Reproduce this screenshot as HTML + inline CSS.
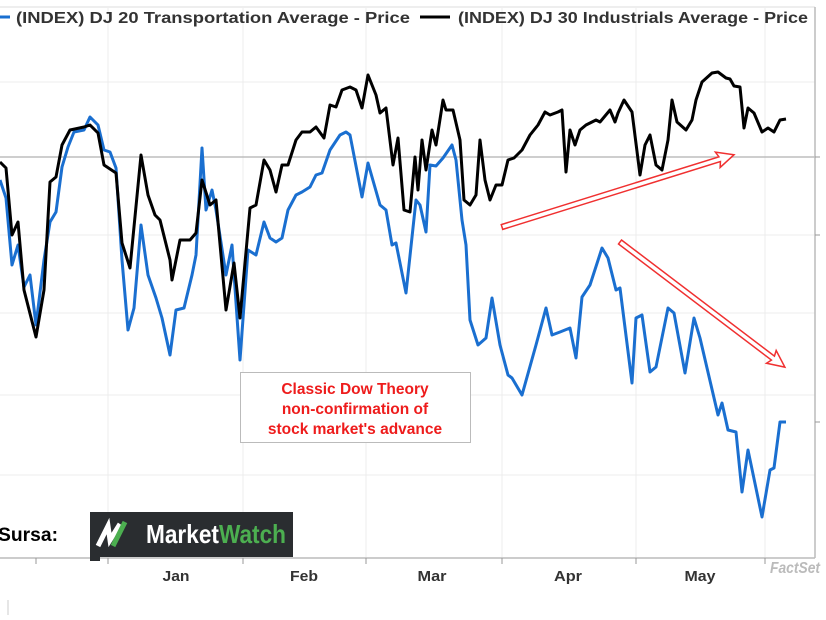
<!DOCTYPE html>
<html><head><meta charset="utf-8"><style>
body{margin:0;background:#fff;width:826px;height:620px;overflow:hidden;font-family:"Liberation Sans",Arial,sans-serif}
</style></head><body>
<svg width="826" height="620" viewBox="0 0 826 620" xmlns="http://www.w3.org/2000/svg" style="position:absolute;left:0;top:0">
<g stroke="#ececec" stroke-width="1">
<line x1="0" y1="82" x2="815" y2="82"/><line x1="0" y1="235" x2="815" y2="235"/>
<line x1="0" y1="313" x2="815" y2="313"/><line x1="0" y1="395" x2="815" y2="395"/><line x1="0" y1="475" x2="815" y2="475"/>
<line x1="108" y1="8" x2="108" y2="558"/><line x1="243" y1="8" x2="243" y2="558"/><line x1="366" y1="8" x2="366" y2="558"/>
<line x1="502" y1="8" x2="502" y2="558"/><line x1="636" y1="8" x2="636" y2="558"/><line x1="765" y1="8" x2="765" y2="558"/>
</g>
<line x1="0" y1="157" x2="815" y2="157" stroke="#bdbdbd" stroke-width="1.5"/>
<line x1="0" y1="7" x2="815" y2="7" stroke="#ddd"/>
<line x1="815" y1="7" x2="815" y2="558" stroke="#bbb" stroke-width="1.5"/>
<line x1="0" y1="558" x2="815" y2="558" stroke="#bbb" stroke-width="1.5"/>
<g stroke="#999" stroke-width="1">
<line x1="36" y1="558" x2="36" y2="564"/><line x1="108" y1="558" x2="108" y2="564"/><line x1="243" y1="558" x2="243" y2="564"/><line x1="366" y1="558" x2="366" y2="564"/><line x1="502" y1="558" x2="502" y2="564"/><line x1="636" y1="558" x2="636" y2="564"/><line x1="765" y1="558" x2="765" y2="564"/>
<line x1="815" y1="157" x2="820" y2="157"/><line x1="815" y1="422" x2="820" y2="422"/><line x1="815" y1="235" x2="820" y2="235"/>
</g>
<polyline fill="none" stroke="#1a6fd0" stroke-width="3" stroke-linejoin="round" points="0,180 6,198 12,265 18,245 24,287 30,275 36,325 44,260 50,222 56,212 62,167 68,147 74,132 84,130 90,117 98,125 104,150 110,152 116,168 122,260 128,330 134,308 141,225 148,275 156,298 162,318 170,355 176,310 184,308 192,275 196,255 202,148 206,210 212,190 216,210 226,275 232,245 240,360 248,250 256,255 264,222 270,238 276,242 282,238 288,210 296,195 302,192 310,187 316,175 322,173 330,150 340,135 346,132 350,135 362,197 368,163 380,205 386,210 392,245 396,243 406,293 416,200 420,205 426,232 430,165 436,166 443,158 452,145 456,160 462,220 466,245 470,320 478,345 486,338 492,298 500,345 508,375 512,378 522,395 536,345 546,308 552,335 560,332 570,328 576,358 582,297 590,285 602,248 608,258 616,290 620,288 632,383 636,318 642,315 650,372 656,367 668,308 674,313 685,373 694,318 700,338 718,415 722,403 728,430 736,432 742,492 748,450 762,517 770,470 774,468 780,422 786,422"/>
<polyline fill="none" stroke="#000" stroke-width="3" stroke-linejoin="round" points="0,162 6,168 12,235 18,222 24,290 36,337 44,290 50,182 56,177 62,145 70,130 84,127 90,125 98,133 104,165 116,173 122,243 130,268 141,155 148,195 155,215 160,220 170,260 172,280 180,240 190,240 196,233 202,180 210,205 216,200 226,310 234,263 240,318 250,208 256,205 264,160 270,170 276,192 282,165 288,165 296,140 302,132 310,132 316,127 324,138 330,105 336,107 342,90 350,87 356,90 362,108 368,75 376,95 380,113 386,108 393,165 398,138 404,210 410,212 415,157 418,190 422,140 426,170 432,130 436,145 443,100 446,110 453,110 460,140 464,200 470,205 476,195 480,140 485,180 490,200 496,185 502,185 508,160 514,158 522,150 530,135 538,125 545,112 550,115 558,112 562,110 566,172 570,130 575,145 580,130 586,125 596,120 600,122 610,110 615,122 618,113 624,100 632,112 640,175 645,145 650,135 656,165 662,170 668,140 672,100 677,122 686,130 692,120 696,100 702,82 712,73 718,72 726,78 730,79 734,86 740,87 744,128 748,108 754,113 762,132 768,128 774,132 780,120 786,119"/>
<g fill="#fff" stroke="#f03030" stroke-width="1.5" stroke-linejoin="miter">
<polygon points="0,-2.5 228,-2.5 226,-8 243,0 226,8 228,2.5 0,2.5" transform="translate(502,227) rotate(-17.3)"/>
<polygon points="0,-2.5 192,-2.5 190,-8 207,0 190,8 192,2.5 0,2.5" transform="translate(620,242) rotate(37.2)"/>
</g>
<rect x="240.5" y="372.5" width="230" height="70" fill="#fff" stroke="#bbb"/>
<g fill="#ee1c1c" font-weight="bold" font-size="15.5" text-anchor="middle">
<text x="355" y="394">Classic Dow Theory</text>
<text x="355" y="414">non-confirmation of</text>
<text x="355" y="434">stock market's advance</text>
</g>
<line x1="0" y1="17" x2="10" y2="17" stroke="#1a6fd0" stroke-width="3"/>
<text x="16" y="23" font-size="16" font-weight="bold" fill="#333" textLength="394" lengthAdjust="spacingAndGlyphs">(INDEX) DJ 20 Transportation Average - Price</text>
<line x1="420" y1="17" x2="450" y2="17" stroke="#000" stroke-width="3"/>
<text x="458" y="23" font-size="16" font-weight="bold" fill="#333" textLength="350" lengthAdjust="spacingAndGlyphs">(INDEX) DJ 30 Industrials Average - Price</text>
<g font-size="15" font-weight="bold" fill="#333" text-anchor="middle">
<text x="176" y="581" textLength="27" lengthAdjust="spacingAndGlyphs">Jan</text><text x="304" y="581" textLength="28" lengthAdjust="spacingAndGlyphs">Feb</text><text x="432" y="581" textLength="29" lengthAdjust="spacingAndGlyphs">Mar</text><text x="568" y="581" textLength="28" lengthAdjust="spacingAndGlyphs">Apr</text><text x="700" y="581" textLength="31" lengthAdjust="spacingAndGlyphs">May</text>
</g>
<text x="770" y="573" font-size="16" font-style="italic" font-weight="bold" fill="#bbb" textLength="50" lengthAdjust="spacingAndGlyphs">FactSet</text>
<text x="-2" y="541" font-size="19" font-weight="bold" fill="#000" textLength="60" lengthAdjust="spacingAndGlyphs">Sursa:</text>
<rect x="90" y="512" width="203" height="45" fill="#2a2d30"/>
<rect x="90" y="550" width="10" height="11" fill="#2a2d30"/>
<polyline points="98,546 108,526 110,540 120,524" fill="none" stroke="#fff" stroke-width="5"/>
<polyline points="113,546 125,522" fill="none" stroke="#4caf50" stroke-width="5"/>
<text x="146" y="543" font-size="26" font-weight="bold" fill="#fff" textLength="140" lengthAdjust="spacingAndGlyphs">Market<tspan fill="#4caf50">Watch</tspan></text>
<line x1="8" y1="600" x2="8" y2="615" stroke="#ccc"/>
</svg>
</body></html>
